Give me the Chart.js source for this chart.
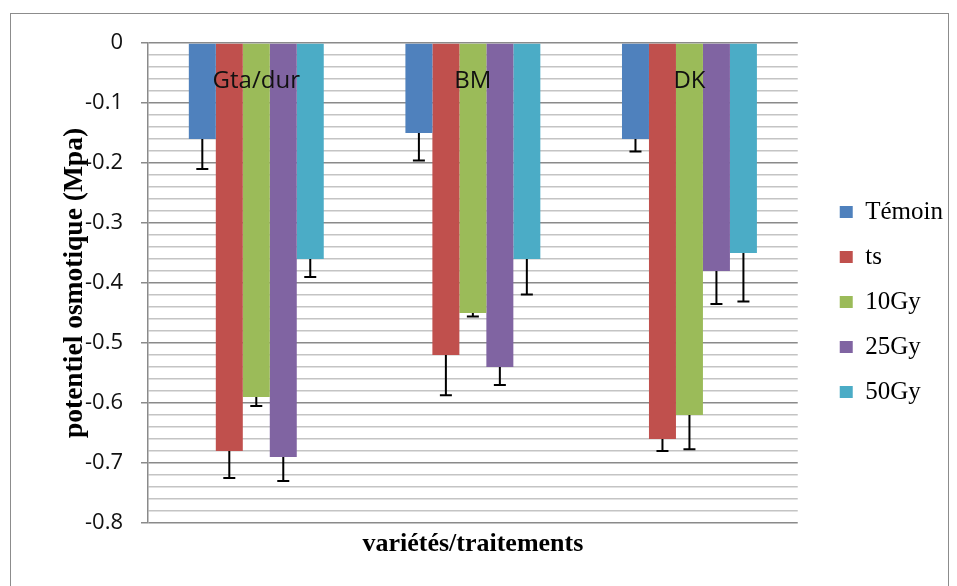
<!DOCTYPE html>
<html>
<head>
<meta charset="utf-8">
<script src="https://cdn.jsdelivr.net/npm/chart.js@4.4.1/dist/chart.umd.min.js"></script>
<style>
  html, body { margin: 0; padding: 0; background: #fff; overflow: hidden; }
  #cadre { position: absolute; left: 10px; top: 13px; width: 937px; height: 600px; border: 1px solid #8c8c8c; }
  #wrap { position: absolute; left: 0; top: 0; width: 957px; height: 586px; }
</style>
</head>
<body>
<div id="cadre"></div>
<div id="wrap"><canvas id="myChart"></canvas></div>
<script>
// données (potentiel osmotique en Mpa)
const varietes = ["Gta/dur", "BM", "DK"];
const traitements = ["Témoin", "ts", "10Gy", "25Gy", "50Gy"];
const couleurs = ["#4F81BD", "#C0504D", "#9BBB59", "#8064A2", "#4BACC6"];

const temoin = [-0.16, -0.15, -0.16];
const ts = [-0.68, -0.52, -0.66];
const gy10 = [-0.59, -0.45, -0.62];
const gy25 = [-0.69, -0.54, -0.38];
const gy50 = [-0.36, -0.36, -0.35];

// barres d'erreur (seulement vers le bas)
const errTemoin = [0.05, 0.046, 0.021];
const errTs = [0.045, 0.067, 0.02];
const err10 = [0.015, 0.006, 0.057];
const err25 = [0.04, 0.03, 0.055];
const err50 = [0.03, 0.059, 0.081];

const yTicks = [0, -0.1, -0.2, -0.3, -0.4, -0.5, -0.6, -0.7, -0.8];

const series = [temoin, ts, gy10, gy25, gy50];
const erreurs = [errTemoin, errTs, err10, err25, err50];

const estMajeur = (v) => yTicks.some(t => Math.abs(t - v) < 1e-6);
const serif = "'Liberation Serif', 'Times New Roman', serif";

// ######## plugin : barres d'erreur ########
const errorBars = {
  id: "errorBars",
  afterDatasetsDraw(chart) {
    const ctx = chart.ctx;
    const y = chart.scales.y;
    ctx.save();
    ctx.strokeStyle = "#000";
    ctx.lineWidth = 2;
    chart.data.datasets.forEach((ds, i) => {
      const meta = chart.getDatasetMeta(i);
      meta.data.forEach((bar, j) => {
        const v = ds.data[j];
        const y0 = y.getPixelForValue(v);
        const y1 = y.getPixelForValue(v - erreurs[i][j]);
        ctx.beginPath();
        ctx.moveTo(bar.x, y0);
        ctx.lineTo(bar.x, y1);
        ctx.moveTo(bar.x - 6, y1);
        ctx.lineTo(bar.x + 6, y1);
        ctx.stroke();
      });
    });
    ctx.restore();
  }
};

// ######## plugin : noms des variétés en haut ########
const nomsVarietes = {
  id: "nomsVarietes",
  afterDatasetsDraw(chart) {
    const ctx = chart.ctx;
    const x = chart.scales.x;
    ctx.save();
    ctx.font = "24px 'Open Sans'";
    ctx.fillStyle = "#111";
    ctx.textAlign = "center";
    ctx.textBaseline = "middle";
    varietes.forEach((nom, i) => {
      ctx.fillText(nom, x.getPixelForValue(i), chart.chartArea.top + 38);
    });
    ctx.restore();
  }
};

const datasets = traitements.map((t, i) => ({
  label: t,
  data: series[i],
  backgroundColor: couleurs[i],
  borderWidth: 0,
  categoryPercentage: 0.623,
  barPercentage: 1
}));

const config = {
  type: "bar",
  data: { labels: varietes, datasets },
  options: {
    responsive: false,
    animation: false,
    layout: { padding: { left: 50, top: 43, right: 4, bottom: 25 } },
    plugins: {
      tooltip: { enabled: false },
      legend: {
        position: "right",
        labels: {
          boxWidth: 13,
          boxHeight: 12,
          padding: 20,
          color: "#000",
          font: { family: serif, size: 25 }
        }
      }
    },
    scales: {
      x: {
        grid: { display: false },
        border: { display: false },
        ticks: { display: false },
        title: {
          display: true,
          text: "variétés/traitements",
          color: "#000",
          font: { family: serif, size: 26, weight: "bold" },
          padding: { top: 0, bottom: 1 }
        },
        afterFit: (s) => { s.height = 38; }
      },
      y: {
        min: -0.8,
        max: 0,
        ticks: {
          stepSize: 0.02,
          maxTicksLimit: 60,
          autoSkip: false,
          padding: 18,
          color: "#111",
          font: { family: "'Open Sans', sans-serif", size: 22 },
          callback: (v) => estMajeur(v) ? String(Math.round(v * 10) / 10) : ""
        },
        grid: {
          color: (c) => estMajeur(c.tick.value) ? "#8a8a8a" : "#c4c4c4",
          lineWidth: 1.5,
          tickLength: 7,
          tickColor: (c) => estMajeur(c.tick.value) ? "#8a8a8a" : "rgba(0,0,0,0)"
        },
        border: { color: "#8a8a8a", width: 1.5 },
        title: {
          display: true,
          text: "potentiel osmotique (Mpa)",
          color: "#000",
          font: { family: serif, size: 27.5, weight: "bold" },
          padding: { top: 8, bottom: 0 }
        },
        afterFit: (s) => { s.width = 98; }
      },
      y2: {
        position: "right",
        display: true,
        grid: { display: false },
        border: { display: false },
        ticks: { display: false },
        afterFit: (s) => { s.width = 22; }
      }
    }
  },
  plugins: [errorBars, nomsVarietes]
};

const myChartElement = document.getElementById("myChart");
myChartElement.width = 957;
myChartElement.height = 586;
new Chart(myChartElement, config);
</script>
</body>
</html>
